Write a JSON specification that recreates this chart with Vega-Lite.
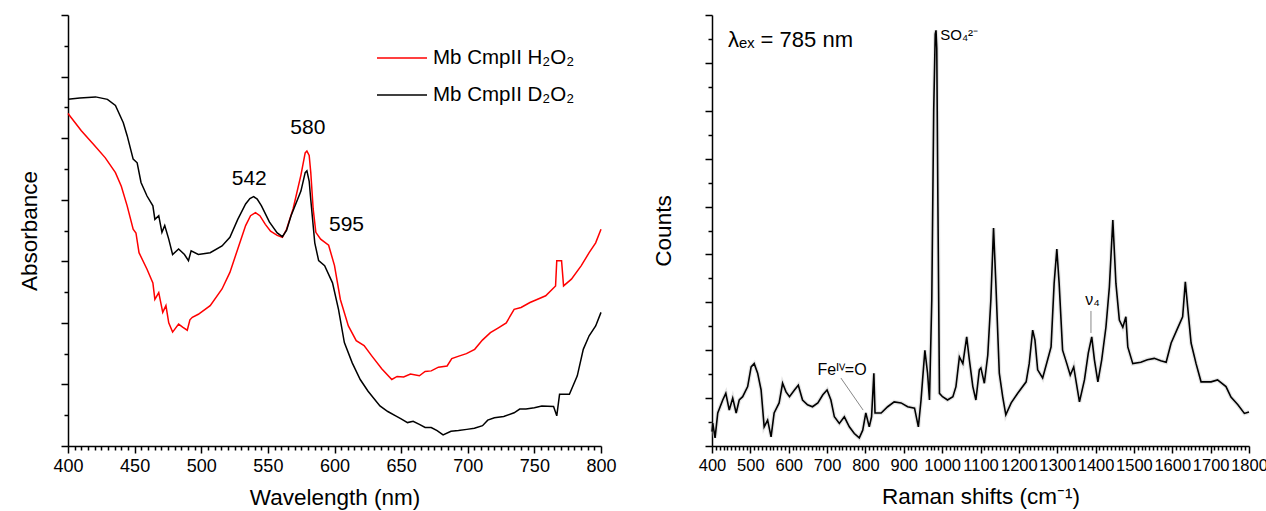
{
  "$schema": "https://vega.github.io/schema/vega-lite/v6.json",
  "padding": {"left": 18, "top": 14, "right": 10, "bottom": 5},
  "spacing": 111,
  "bounds": "flush",
  "config": {
    "view": {"stroke": null},
    "font": "Liberation Sans",
    "axis": {
      "domainColor": "#000", "domainWidth": 1.5, "tickColor": "#000", "tickWidth": 1.5,
      "labelFont": "Liberation Sans", "titleFont": "Liberation Sans", "labelColor": "#000", "titleColor": "#000",
      "titleFontWeight": "normal", "grid": false, "labelFontSize": 18, "titleFontSize": 22.5,
      "labelOverlap": false, "labelFlush": false, "labelBound": false
    }
  },
  "datasets": {
    "abs": [
      {"s":"Mb CmpII H₂O₂","x":400,"y":5.40},{"s":"Mb CmpII H₂O₂","x":410,"y":5.12},{"s":"Mb CmpII H₂O₂","x":419.9,"y":4.88},{"s":"Mb CmpII H₂O₂","x":428,"y":4.68},{"s":"Mb CmpII H₂O₂","x":435.6,"y":4.44},
      {"s":"Mb CmpII H₂O₂","x":440,"y":4.22},{"s":"Mb CmpII H₂O₂","x":444.4,"y":3.90},{"s":"Mb CmpII H₂O₂","x":448.9,"y":3.52},{"s":"Mb CmpII H₂O₂","x":451,"y":3.46},{"s":"Mb CmpII H₂O₂","x":453.3,"y":3.14},
      {"s":"Mb CmpII H₂O₂","x":459.3,"y":2.87},{"s":"Mb CmpII H₂O₂","x":463.7,"y":2.65},{"s":"Mb CmpII H₂O₂","x":465.2,"y":2.38},{"s":"Mb CmpII H₂O₂","x":468.1,"y":2.49},
      {"s":"Mb CmpII H₂O₂","x":471.1,"y":2.17},{"s":"Mb CmpII H₂O₂","x":473.5,"y":2.28},{"s":"Mb CmpII H₂O₂","x":475.6,"y":2.00},{"s":"Mb CmpII H₂O₂","x":478.5,"y":1.85},
      {"s":"Mb CmpII H₂O₂","x":483,"y":1.98},{"s":"Mb CmpII H₂O₂","x":486,"y":1.93},{"s":"Mb CmpII H₂O₂","x":489.5,"y":1.88},{"s":"Mb CmpII H₂O₂","x":491.5,"y":2.05},{"s":"Mb CmpII H₂O₂","x":493.3,"y":2.09},
      {"s":"Mb CmpII H₂O₂","x":497.8,"y":2.14},{"s":"Mb CmpII H₂O₂","x":506.7,"y":2.28},{"s":"Mb CmpII H₂O₂","x":515.6,"y":2.55},{"s":"Mb CmpII H₂O₂","x":521.5,"y":2.82},
      {"s":"Mb CmpII H₂O₂","x":527.4,"y":3.20},{"s":"Mb CmpII H₂O₂","x":533.3,"y":3.58},{"s":"Mb CmpII H₂O₂","x":537,"y":3.74},{"s":"Mb CmpII H₂O₂","x":540.7,"y":3.79},{"s":"Mb CmpII H₂O₂","x":544,"y":3.74},{"s":"Mb CmpII H₂O₂","x":548.1,"y":3.60},
      {"s":"Mb CmpII H₂O₂","x":552,"y":3.49},{"s":"Mb CmpII H₂O₂","x":557,"y":3.42},{"s":"Mb CmpII H₂O₂","x":560.9,"y":3.39},{"s":"Mb CmpII H₂O₂","x":564,"y":3.52},{"s":"Mb CmpII H₂O₂","x":568.9,"y":3.85},{"s":"Mb CmpII H₂O₂","x":574.8,"y":4.40},
      {"s":"Mb CmpII H₂O₂","x":578,"y":4.76},{"s":"Mb CmpII H₂O₂","x":579.3,"y":4.79},{"s":"Mb CmpII H₂O₂","x":581,"y":4.72},{"s":"Mb CmpII H₂O₂","x":582.2,"y":4.44},{"s":"Mb CmpII H₂O₂","x":584,"y":3.85},{"s":"Mb CmpII H₂O₂","x":586,"y":3.47},{"s":"Mb CmpII H₂O₂","x":589.6,"y":3.36},
      {"s":"Mb CmpII H₂O₂","x":595.6,"y":3.26},{"s":"Mb CmpII H₂O₂","x":600,"y":2.93},{"s":"Mb CmpII H₂O₂","x":604.4,"y":2.38},{"s":"Mb CmpII H₂O₂","x":610.4,"y":1.95},
      {"s":"Mb CmpII H₂O₂","x":616.3,"y":1.71},{"s":"Mb CmpII H₂O₂","x":622.2,"y":1.63},{"s":"Mb CmpII H₂O₂","x":628.1,"y":1.46},{"s":"Mb CmpII H₂O₂","x":635.6,"y":1.25},
      {"s":"Mb CmpII H₂O₂","x":643,"y":1.08},{"s":"Mb CmpII H₂O₂","x":647,"y":1.13},{"s":"Mb CmpII H₂O₂","x":651.9,"y":1.12},{"s":"Mb CmpII H₂O₂","x":657,"y":1.17},{"s":"Mb CmpII H₂O₂","x":663.7,"y":1.14},
      {"s":"Mb CmpII H₂O₂","x":668,"y":1.21},{"s":"Mb CmpII H₂O₂","x":672.6,"y":1.22},{"s":"Mb CmpII H₂O₂","x":678,"y":1.28},{"s":"Mb CmpII H₂O₂","x":684.5,"y":1.30},{"s":"Mb CmpII H₂O₂","x":688,"y":1.42},{"s":"Mb CmpII H₂O₂","x":693.3,"y":1.46},
      {"s":"Mb CmpII H₂O₂","x":699,"y":1.50},{"s":"Mb CmpII H₂O₂","x":705.2,"y":1.57},{"s":"Mb CmpII H₂O₂","x":711,"y":1.72},{"s":"Mb CmpII H₂O₂","x":717,"y":1.84},{"s":"Mb CmpII H₂O₂","x":723,"y":1.92},{"s":"Mb CmpII H₂O₂","x":728.9,"y":2.00},
      {"s":"Mb CmpII H₂O₂","x":734.8,"y":2.22},{"s":"Mb CmpII H₂O₂","x":740,"y":2.25},{"s":"Mb CmpII H₂O₂","x":746.7,"y":2.33},{"s":"Mb CmpII H₂O₂","x":752,"y":2.38},{"s":"Mb CmpII H₂O₂","x":758.5,"y":2.44},
      {"s":"Mb CmpII H₂O₂","x":765.9,"y":2.60},{"s":"Mb CmpII H₂O₂","x":766.8,"y":3.01},{"s":"Mb CmpII H₂O₂","x":770.4,"y":3.01},{"s":"Mb CmpII H₂O₂","x":771.9,"y":2.60},
      {"s":"Mb CmpII H₂O₂","x":777.8,"y":2.71},{"s":"Mb CmpII H₂O₂","x":785.2,"y":2.93},{"s":"Mb CmpII H₂O₂","x":791.1,"y":3.14},{"s":"Mb CmpII H₂O₂","x":796,"y":3.30},{"s":"Mb CmpII H₂O₂","x":800,"y":3.52},
      {"s":"Mb CmpII D₂O₂","x":400,"y":5.63},{"s":"Mb CmpII D₂O₂","x":408.9,"y":5.65},{"s":"Mb CmpII D₂O₂","x":420.7,"y":5.67},{"s":"Mb CmpII D₂O₂","x":429.6,"y":5.63},
      {"s":"Mb CmpII D₂O₂","x":435.6,"y":5.53},{"s":"Mb CmpII D₂O₂","x":441.5,"y":5.25},{"s":"Mb CmpII D₂O₂","x":444.4,"y":5.04},{"s":"Mb CmpII D₂O₂","x":448.9,"y":4.66},
      {"s":"Mb CmpII D₂O₂","x":451.9,"y":4.60},{"s":"Mb CmpII D₂O₂","x":454.8,"y":4.28},{"s":"Mb CmpII D₂O₂","x":459.3,"y":4.06},{"s":"Mb CmpII D₂O₂","x":463.7,"y":3.90},
      {"s":"Mb CmpII D₂O₂","x":465.2,"y":3.68},{"s":"Mb CmpII D₂O₂","x":468.1,"y":3.74},{"s":"Mb CmpII D₂O₂","x":470.5,"y":3.47},{"s":"Mb CmpII D₂O₂","x":472.6,"y":3.58},
      {"s":"Mb CmpII D₂O₂","x":475.6,"y":3.36},{"s":"Mb CmpII D₂O₂","x":478.5,"y":3.11},{"s":"Mb CmpII D₂O₂","x":483,"y":3.20},{"s":"Mb CmpII D₂O₂","x":487.4,"y":3.11},
      {"s":"Mb CmpII D₂O₂","x":490.4,"y":3.01},{"s":"Mb CmpII D₂O₂","x":492.4,"y":3.17},{"s":"Mb CmpII D₂O₂","x":497.8,"y":3.11},{"s":"Mb CmpII D₂O₂","x":506.7,"y":3.14},
      {"s":"Mb CmpII D₂O₂","x":515.6,"y":3.25},{"s":"Mb CmpII D₂O₂","x":521.5,"y":3.39},{"s":"Mb CmpII D₂O₂","x":527.4,"y":3.68},{"s":"Mb CmpII D₂O₂","x":533.3,"y":3.93},
      {"s":"Mb CmpII D₂O₂","x":536.5,"y":4.02},{"s":"Mb CmpII D₂O₂","x":539.3,"y":4.05},{"s":"Mb CmpII D₂O₂","x":542,"y":4.01},{"s":"Mb CmpII D₂O₂","x":545.2,"y":3.90},{"s":"Mb CmpII D₂O₂","x":551.1,"y":3.64},{"s":"Mb CmpII D₂O₂","x":557,"y":3.46},
      {"s":"Mb CmpII D₂O₂","x":560.9,"y":3.40},{"s":"Mb CmpII D₂O₂","x":564,"y":3.50},{"s":"Mb CmpII D₂O₂","x":567.4,"y":3.74},{"s":"Mb CmpII D₂O₂","x":574.8,"y":4.14},{"s":"Mb CmpII D₂O₂","x":578,"y":4.44},{"s":"Mb CmpII D₂O₂","x":579.3,"y":4.47},
      {"s":"Mb CmpII D₂O₂","x":581,"y":4.30},{"s":"Mb CmpII D₂O₂","x":582.2,"y":4.00},{"s":"Mb CmpII D₂O₂","x":585.2,"y":3.30},{"s":"Mb CmpII D₂O₂","x":588.1,"y":3.01},{"s":"Mb CmpII D₂O₂","x":592.6,"y":2.93},
      {"s":"Mb CmpII D₂O₂","x":598.5,"y":2.65},{"s":"Mb CmpII D₂O₂","x":603,"y":2.22},{"s":"Mb CmpII D₂O₂","x":607.4,"y":1.68},{"s":"Mb CmpII D₂O₂","x":613.3,"y":1.35},
      {"s":"Mb CmpII D₂O₂","x":619.3,"y":1.08},{"s":"Mb CmpII D₂O₂","x":625.2,"y":0.89},{"s":"Mb CmpII D₂O₂","x":634.1,"y":0.65},{"s":"Mb CmpII D₂O₂","x":640,"y":0.56},{"s":"Mb CmpII D₂O₂","x":645.9,"y":0.49},
      {"s":"Mb CmpII D₂O₂","x":650,"y":0.44},{"s":"Mb CmpII D₂O₂","x":654.8,"y":0.38},{"s":"Mb CmpII D₂O₂","x":659,"y":0.40},{"s":"Mb CmpII D₂O₂","x":663.7,"y":0.35},{"s":"Mb CmpII D₂O₂","x":668,"y":0.30},{"s":"Mb CmpII D₂O₂","x":672.6,"y":0.30},
      {"s":"Mb CmpII D₂O₂","x":677,"y":0.25},{"s":"Mb CmpII D₂O₂","x":681.5,"y":0.18},{"s":"Mb CmpII D₂O₂","x":687.4,"y":0.24},{"s":"Mb CmpII D₂O₂","x":693,"y":0.25},{"s":"Mb CmpII D₂O₂","x":699.3,"y":0.27},
      {"s":"Mb CmpII D₂O₂","x":705,"y":0.29},{"s":"Mb CmpII D₂O₂","x":711.1,"y":0.33},{"s":"Mb CmpII D₂O₂","x":715,"y":0.42},{"s":"Mb CmpII D₂O₂","x":720,"y":0.46},{"s":"Mb CmpII D₂O₂","x":727,"y":0.48},{"s":"Mb CmpII D₂O₂","x":734.8,"y":0.54},
      {"s":"Mb CmpII D₂O₂","x":739,"y":0.60},{"s":"Mb CmpII D₂O₂","x":743.7,"y":0.60},{"s":"Mb CmpII D₂O₂","x":750,"y":0.62},{"s":"Mb CmpII D₂O₂","x":755.6,"y":0.65},{"s":"Mb CmpII D₂O₂","x":764.4,"y":0.64},
      {"s":"Mb CmpII D₂O₂","x":766.8,"y":0.49},{"s":"Mb CmpII D₂O₂","x":768.9,"y":0.84},{"s":"Mb CmpII D₂O₂","x":776.3,"y":0.84},{"s":"Mb CmpII D₂O₂","x":782.2,"y":1.14},
      {"s":"Mb CmpII D₂O₂","x":786.7,"y":1.57},{"s":"Mb CmpII D₂O₂","x":791.1,"y":1.79},{"s":"Mb CmpII D₂O₂","x":796,"y":1.95},{"s":"Mb CmpII D₂O₂","x":800,"y":2.17}
    ],
    "raman": [
      {"x":400,"y":0.30},{"x":402,"y":0.48},{"x":408,"y":0.17},{"x":415,"y":0.69},{"x":428,"y":0.96},{"x":436,"y":1.10},{"x":445,"y":0.75},{"x":454,"y":1.00},
      {"x":463,"y":0.69},{"x":471,"y":0.96},{"x":480,"y":1.03},{"x":493,"y":1.24},{"x":502,"y":1.65},{"x":510,"y":1.72},{"x":519,"y":1.52},{"x":528,"y":1.17},
      {"x":536,"y":0.40},{"x":545,"y":0.54},{"x":554,"y":0.19},{"x":562,"y":0.69},{"x":575,"y":0.90},{"x":584,"y":1.31},{"x":593,"y":1.13},{"x":602,"y":1.03},
      {"x":615,"y":1.17},{"x":625,"y":1.27},{"x":636,"y":0.96},{"x":649,"y":0.86},{"x":662,"y":0.82},{"x":676,"y":0.90},{"x":689,"y":1.07},{"x":700,"y":1.17},
      {"x":710,"y":0.96},{"x":719,"y":0.61},{"x":732,"y":0.47},{"x":745,"y":0.61},{"x":758,"y":0.40},{"x":771,"y":0.26},{"x":784,"y":0.17},{"x":793,"y":0.33},
      {"x":801,"y":0.69},{"x":810,"y":0.40},{"x":816,"y":0.61},{"x":822,"y":1.52},{"x":825,"y":0.69},{"x":841,"y":0.69},{"x":858,"y":0.82},{"x":875,"y":0.92},
      {"x":893,"y":0.90},{"x":910,"y":0.82},{"x":928,"y":0.79},{"x":938,"y":0.40},{"x":945,"y":0.96},{"x":949,"y":1.38},{"x":955,"y":2.00},{"x":962,"y":1.52},
      {"x":967,"y":0.96},{"x":973,"y":3.05},{"x":978,"y":7.0},{"x":982,"y":8.6},{"x":984,"y":8.68},{"x":986,"y":8.3},{"x":989,"y":5.0},{"x":993,"y":1.10},
      {"x":1001,"y":1.03},{"x":1014,"y":0.96},{"x":1028,"y":1.03},{"x":1036,"y":1.24},{"x":1045,"y":1.86},{"x":1054,"y":1.72},{"x":1064,"y":2.28},{"x":1071,"y":1.80},
      {"x":1080,"y":1.24},{"x":1088,"y":0.96},{"x":1097,"y":1.59},{"x":1101,"y":1.63},{"x":1110,"y":1.31},{"x":1119,"y":1.90},{"x":1127,"y":3.05},{"x":1134,"y":4.55},
      {"x":1140,"y":3.40},{"x":1149,"y":1.52},{"x":1158,"y":1.02},{"x":1166,"y":0.65},{"x":1180,"y":0.90},{"x":1197,"y":1.10},{"x":1219,"y":1.34},{"x":1227,"y":1.72},
      {"x":1236,"y":2.42},{"x":1242,"y":2.21},{"x":1249,"y":1.59},{"x":1262,"y":1.42},{"x":1275,"y":1.80},{"x":1284,"y":2.07},{"x":1292,"y":3.40},{"x":1299,"y":4.11},
      {"x":1305,"y":3.40},{"x":1314,"y":2.00},{"x":1325,"y":1.72},{"x":1334,"y":1.48},{"x":1343,"y":1.65},{"x":1358,"y":0.92},{"x":1371,"y":1.38},{"x":1381,"y":1.94},
      {"x":1390,"y":2.28},{"x":1397,"y":1.80},{"x":1406,"y":1.34},{"x":1416,"y":1.80},{"x":1427,"y":2.48},{"x":1436,"y":3.32},{"x":1445,"y":4.72},{"x":1453,"y":3.40},
      {"x":1462,"y":2.63},{"x":1471,"y":2.48},{"x":1479,"y":2.70},{"x":1484,"y":2.07},{"x":1497,"y":1.72},{"x":1518,"y":1.75},{"x":1535,"y":1.80},{"x":1553,"y":1.83},
      {"x":1570,"y":1.78},{"x":1584,"y":1.75},{"x":1597,"y":2.15},{"x":1614,"y":2.46},{"x":1627,"y":2.70},{"x":1634,"y":3.43},{"x":1640,"y":2.91},{"x":1649,"y":2.15},
      {"x":1662,"y":1.72},{"x":1675,"y":1.34},{"x":1701,"y":1.34},{"x":1718,"y":1.38},{"x":1740,"y":1.24},{"x":1753,"y":1.02},{"x":1771,"y":0.86},{"x":1788,"y":0.68},
      {"x":1800,"y":0.71}
    ]
  },
  "hconcat": [
    {
      "width": 533, "height": 431,
      "layer": [
        {
          "data": {"name": "abs"},
          "mark": {"type": "line", "strokeWidth": 1.5},
          "encoding": {
            "x": {"field": "x", "type": "quantitative", "scale": {"domain": [400, 800], "nice": false, "zero": false},
              "axis": {"title": "Wavelength (nm)", "titlePadding": 11, "labelPadding": 4, "tickCount": 500, "labelOverlap": false,
                "values": [400,405,410,415,420,425,430,435,440,445,450,455,460,465,470,475,480,485,490,495,500,505,510,515,520,525,530,535,540,545,550,555,560,565,570,575,580,585,590,595,600,605,610,615,620,625,630,635,640,645,650,655,660,665,670,675,680,685,690,695,700,705,710,715,720,725,730,735,740,745,750,755,760,765,770,775,780,785,790,795,800],
                "labelExpr": "datum.value % 50 === 0 ? datum.label : ''",
                "tickSize": {"condition": {"test": "datum.value % 50 === 0", "value": 7}, "value": 4}}},
            "y": {"field": "y", "type": "quantitative", "scale": {"domain": [0, 7], "nice": false, "zero": false},
              "axis": {"title": "Absorbance", "labels": false, "titlePadding": 19, "tickCount": 500,
                "values": [0,0.5,1,1.5,2,2.5,3,3.5,4,4.5,5,5.5,6,6.5,7],
                "tickSize": {"condition": {"test": "datum.value % 1 === 0", "value": 7}, "value": 4}}},
            "color": {"field": "s", "type": "nominal",
              "scale": {"domain": ["Mb CmpII H₂O₂", "Mb CmpII D₂O₂"], "range": ["#ff0000", "#000000"]},
              "legend": {"title": null, "orient": "none", "legendX": 308, "legendY": 17, "symbolType": "stroke",
                "symbolSize": 2500, "symbolStrokeWidth": 1.5, "labelFontSize": 20.5, "labelFont": "Liberation Sans",
                "labelColor": "#000", "rowPadding": -22, "labelOffset": 5}}
          }
        },
        {
          "data": {"values": [{"x": 536, "y": 4.33, "t": "542"}, {"x": 580, "y": 5.16, "t": "580"}, {"x": 609, "y": 3.59, "t": "595"}]},
          "mark": {"type": "text", "fontSize": 21, "font": "Liberation Sans", "color": "#000"},
          "encoding": {"x": {"field": "x", "type": "quantitative"}, "y": {"field": "y", "type": "quantitative"}, "text": {"field": "t"}}
        }
      ]
    },
    {
      "width": 537, "height": 431,
      "layer": [
        {
          "data": {"name": "raman"},
          "mark": {"type": "line", "strokeWidth": 4, "color": "#cccccc", "opacity": 0.5},
          "encoding": {
            "x": {"field": "x", "type": "quantitative", "scale": {"domain": [400, 1800], "nice": false, "zero": false},
              "axis": {"title": "Raman shifts (cm⁻¹)", "titlePadding": 12, "labelPadding": 4, "labelFontSize": 16.5, "tickCount": 500, "labelOverlap": false,
                "values": [400,410,420,430,440,450,460,470,480,490,500,510,520,530,540,550,560,570,580,590,600,610,620,630,640,650,660,670,680,690,700,710,720,730,740,750,760,770,780,790,800,810,820,830,840,850,860,870,880,890,900,910,920,930,940,950,960,970,980,990,1000,1010,1020,1030,1040,1050,1060,1070,1080,1090,1100,1110,1120,1130,1140,1150,1160,1170,1180,1190,1200,1210,1220,1230,1240,1250,1260,1270,1280,1290,1300,1310,1320,1330,1340,1350,1360,1370,1380,1390,1400,1410,1420,1430,1440,1450,1460,1470,1480,1490,1500,1510,1520,1530,1540,1550,1560,1570,1580,1590,1600,1610,1620,1630,1640,1650,1660,1670,1680,1690,1700,1710,1720,1730,1740,1750,1760,1770,1780,1790,1800],
                "labelExpr": "datum.value % 100 === 0 ? datum.label : ''",
                "format": "d",
                "tickSize": {"condition": {"test": "datum.value % 100 === 0", "value": 7}, "value": 4}}},
            "y": {"field": "y", "type": "quantitative", "scale": {"domain": [0, 9], "nice": false, "zero": false},
              "axis": {"title": "Counts", "labels": false, "titlePadding": 29, "tickCount": 500,
                "values": [0,0.5,1,1.5,2,2.5,3,3.5,4,4.5,5,5.5,6,6.5,7,7.5,8,8.5,9],
                "tickSize": {"condition": {"test": "datum.value % 1 === 0", "value": 7}, "value": 4}}}
          }
        },
        {
          "data": {"name": "raman"},
          "mark": {"type": "line", "strokeWidth": 1.6, "color": "#000"},
          "encoding": {"x": {"field": "x", "type": "quantitative"}, "y": {"field": "y", "type": "quantitative"}}
        },
        {
          "data": {"values": [{"x1": 736, "y1": 1.42, "x2": 794, "y2": 0.75}, {"x1": 1388, "y1": 2.82, "x2": 1388, "y2": 2.36}]},
          "mark": {"type": "rule", "color": "#888888", "strokeWidth": 1},
          "encoding": {"x": {"field": "x1", "type": "quantitative"}, "y": {"field": "y1", "type": "quantitative"},
            "x2": {"field": "x2"}, "y2": {"field": "y2"}}
        },
        {
          "data": {"values": [{"x": 442, "y": 8.48, "t": "λₑₓ = 785 nm"}]},
          "mark": {"type": "text", "fontSize": 22, "align": "left", "font": "Liberation Sans", "color": "#000"},
          "encoding": {"x": {"field": "x", "type": "quantitative"}, "y": {"field": "y", "type": "quantitative"}, "text": {"field": "t"}}
        },
        {
          "data": {"values": [{"x": 995, "y": 8.58, "t": "SO₄²⁻"}]},
          "mark": {"type": "text", "fontSize": 15, "align": "left", "font": "Liberation Sans", "color": "#000"},
          "encoding": {"x": {"field": "x", "type": "quantitative"}, "y": {"field": "y", "type": "quantitative"}, "text": {"field": "t"}}
        },
        {
          "data": {"values": [{"x": 739, "y": 1.59, "t": "Feᴵⱽ=O"}, {"x": 1392, "y": 3.05, "t": "ν₄"}]},
          "mark": {"type": "text", "fontSize": 16, "font": "Liberation Sans", "color": "#000"},
          "encoding": {"x": {"field": "x", "type": "quantitative"}, "y": {"field": "y", "type": "quantitative"}, "text": {"field": "t"}}
        }
      ]
    }
  ]
}
